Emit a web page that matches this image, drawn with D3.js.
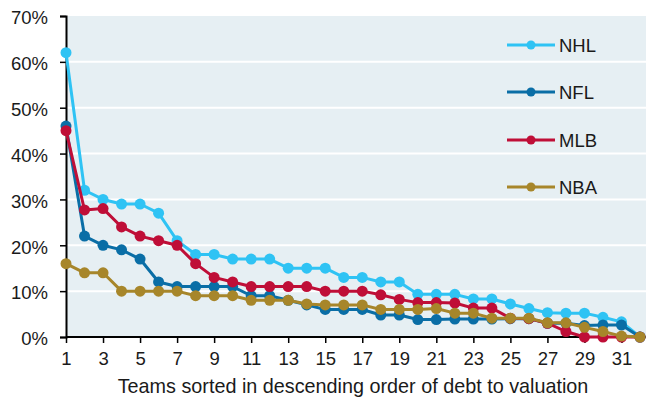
<!DOCTYPE html>
<html>
<head>
<meta charset="utf-8">
<script src="https://cdn.jsdelivr.net/npm/d3@7"></script>
<style>
  html, body { margin: 0; padding: 0; background: #fff; }
  svg { display: block; font-family: "Liberation Sans", Arial, sans-serif; }
</style>
</head>
<body>
<svg id="chart" width="646" height="398"></svg>
<script>
// Team rank (1 = highest debt-to-valuation)
const ranks = d3.range(1, 33);

// Debt-to-valuation ratio (%) per league, teams sorted descending
const nhl = [62, 32, 30, 29, 29, 27, 21, 18, 18, 17, 17, 17, 15, 15, 15, 13,
             13, 12, 12, 9.3, 9.3, 9.3, 8.3, 8.3, 7.2, 6.2, 5.3, 5.2, 5.2, 4.3, 3.3, 0];
const nfl = [46, 22, 20, 19, 17, 12, 11, 11, 11, 11, 9, 9, 8, 7, 6, 6,
             6, 4.8, 4.8, 3.8, 3.8, 3.9, 3.9, 3.9, 4, 4, 3, 3, 2.5, 2.6, 2.6, 0];
const mlb = [45, 27.7, 28, 24, 22, 21, 20, 16, 13, 12, 11, 11, 11, 11, 10, 10,
             10, 9.2, 8.2, 7.5, 7.5, 7.4, 6.3, 6.3, 4.1, 4, 3, 1.2, 0, 0, 0, 0];
const nba = [16, 14, 14, 10, 10, 10, 10, 9, 9, 9, 8, 8, 8, 7.2, 7, 7,
             7, 6, 6, 6, 6.2, 5.2, 5.2, 4.1, 4.1, 4.1, 3.1, 3.1, 2.1, 1.2, 0.2, 0];

const leagues = ["NHL", "NFL", "MLB", "NBA"];
const seriesValues = [nhl, nfl, mlb, nba];
const colors = ["#2FC3F4", "#0A6EA6", "#BF0E37", "#A7862A"];

const yTicks = [0, 10, 20, 30, 40, 50, 60, 70];
const xTicks = d3.range(1, 32, 2);
const xTitle = "Teams sorted in descending order of debt to valuation";

const FONT = 18.5;
const svg = d3.select("#chart");
const plot = { left: 66, top: 16, right: 646, bottom: 337 };

const x = d3.scaleLinear().domain([1, 32]).range([plot.left, 640]);
const y = d3.scaleLinear().domain([0, 70]).range([plot.bottom, plot.top]);

// plot background
svg.append("rect")
  .attr("x", plot.left).attr("y", plot.top)
  .attr("width", plot.right - plot.left).attr("height", plot.bottom - plot.top)
  .attr("fill", "#E6EFF3");

// horizontal gridlines
svg.append("g")
  .selectAll("line")
  .data(yTicks.filter(t => t > 0 && t < 70))
  .join("line")
  .attr("x1", plot.left).attr("x2", plot.right)
  .attr("y1", d => y(d)).attr("y2", d => y(d))
  .attr("stroke", "#fff").attr("stroke-width", 2);

// y axis
const yAxis = svg.append("g")
  .attr("transform", `translate(${plot.left},0)`)
  .call(d3.axisLeft(y).tickValues(yTicks).tickFormat(d => d + "%").tickSize(6).tickPadding(12));
yAxis.select(".domain").attr("stroke", "#000").attr("stroke-width", 2);
yAxis.selectAll(".tick line").attr("stroke", "#000").attr("stroke-width", 1.5);
yAxis.selectAll(".tick text")
  .attr("font-size", FONT).attr("fill", "#1a1a1a")
  .attr("font-family", "Liberation Sans, Arial, sans-serif")
  .attr("dy", "0.42em");

// x axis
const xAxis = svg.append("g")
  .attr("transform", `translate(0,${plot.bottom})`)
  .call(d3.axisBottom(x).tickValues(xTicks).tickFormat(d3.format("d")).tickSize(6).tickPadding(9));
xAxis.select(".domain").attr("d", `M${plot.left},0H${plot.right}`)
  .attr("stroke", "#000").attr("stroke-width", 2);
xAxis.selectAll(".tick line").attr("stroke", "#000").attr("stroke-width", 1.5);
xAxis.selectAll(".tick text")
  .attr("font-size", FONT).attr("fill", "#1a1a1a")
  .attr("font-family", "Liberation Sans, Arial, sans-serif");

// x-axis title
svg.append("text")
  .attr("x", 353).attr("y", 393)
  .attr("text-anchor", "middle")
  .attr("font-size", 19.8).attr("fill", "#1a1a1a")
  .text(xTitle);

// series lines and markers
const line = d3.line().x((d, i) => x(ranks[i])).y(d => y(d));
leagues.forEach((name, k) => {
  const g = svg.append("g");
  g.append("path")
    .attr("d", line(seriesValues[k]))
    .attr("fill", "none")
    .attr("stroke", colors[k])
    .attr("stroke-width", 3)
    .attr("stroke-linejoin", "round");
  g.selectAll("circle")
    .data(seriesValues[k])
    .join("circle")
    .attr("cx", (d, i) => x(ranks[i]))
    .attr("cy", d => y(d))
    .attr("r", 5.5)
    .attr("fill", colors[k]);
});

// legend
const legendY = [45, 92, 140, 187];
const legend = svg.append("g");
leagues.forEach((name, k) => {
  const g = legend.append("g").attr("transform", `translate(507,${legendY[k]})`);
  g.append("line").attr("x1", 0).attr("x2", 48).attr("y1", 0).attr("y2", 0)
    .attr("stroke", colors[k]).attr("stroke-width", 3);
  g.append("circle").attr("cx", 24).attr("cy", 0).attr("r", 4.5).attr("fill", colors[k]);
  g.append("text").attr("x", 52).attr("y", 0).attr("dy", "0.36em")
    .attr("font-size", FONT).attr("fill", "#1a1a1a").text(name);
});
</script>
</body>
</html>
